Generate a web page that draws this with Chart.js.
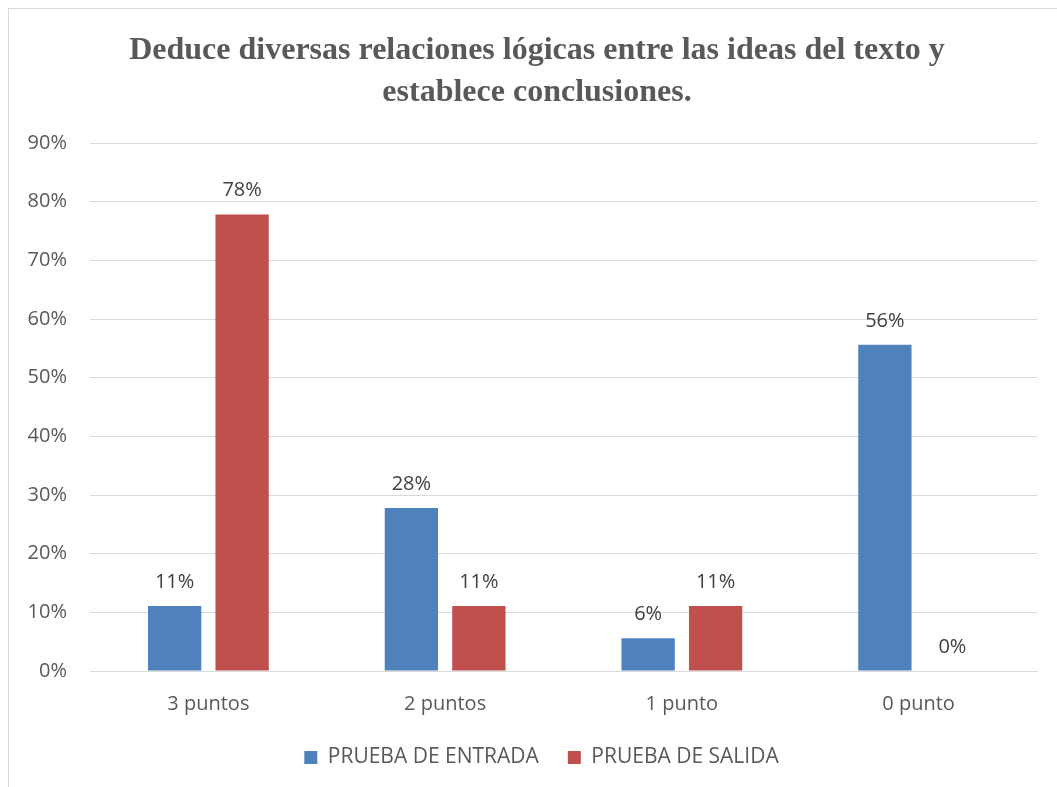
<!DOCTYPE html>
<html>
<head>
<meta charset="utf-8">
<script src="https://cdn.jsdelivr.net/npm/chart.js@4"></script>
<style>
  html, body { margin: 0; padding: 0; background: #fff; overflow: hidden; }
  #marco { position: absolute; left: 8px; top: 8px; width: 1100px; height: 900px; border: 1px solid #D9D9D9; box-sizing: border-box; }
  #myChart { position: absolute; left: 0; top: 0; }
</style>
</head>
<body>
<div id="marco"></div>
<canvas id="myChart" width="1057" height="787"></canvas>
<script>
const categorias = ['3 puntos', '2 puntos', '1 punto', '0 punto'];
const pruebaEntrada = [11.1, 27.8, 5.6, 55.6];
const pruebaSalida = [77.8, 11.1, 11.1, 0];
const titulo = ['Deduce diversas relaciones lógicas entre las ideas del texto y', 'establece conclusiones.'];

const fuente = '"Open Sans", Lato, sans-serif';

// titulo dibujado a mano para poder centrarlo donde esta en el original
const tituloGrafico = {
  id: 'tituloGrafico',
  afterDraw(chart) {
    const ctx = chart.ctx;
    ctx.save();
    ctx.font = 'bold 32px "Liberation Serif", "Times New Roman", serif';
    ctx.fillStyle = '#595959';
    ctx.textAlign = 'center';
    ctx.textBaseline = 'middle';
    titulo.forEach((linea, i) => ctx.fillText(linea, 537, 51 + i * 42));
    ctx.restore();
  }
};

// la leyenda va un poco a la derecha del centro
const moverLeyenda = {
  id: 'moverLeyenda',
  afterLayout(chart) {
    chart.legend.left += 18;
    chart.legend.right += 18;
  }
};

// etiquetas encima de cada barra
const etiquetasBarras = {
  id: 'etiquetasBarras',
  afterDatasetsDraw(chart) {
    const ctx = chart.ctx;
    ctx.save();
    ctx.font = '20px ' + fuente;
    ctx.fillStyle = '#404040';
    ctx.textAlign = 'center';
    ctx.textBaseline = 'middle';
    chart.data.datasets.forEach((ds, i) => {
      chart.getDatasetMeta(i).data.forEach((bar, j) => {
        ctx.fillText(Math.round(ds.data[j]) + '%', bar.x, bar.y - 24);
      });
    });
    ctx.restore();
  }
};

const ctx = document.getElementById('myChart');

new Chart(ctx, {
  type: 'bar',
  data: {
    labels: categorias,
    datasets: [{
      label: 'PRUEBA DE ENTRADA',
      data: pruebaEntrada,
      backgroundColor: '#4F81BD',
      categoryPercentage: 0.57,
      barPercentage: 0.79
    }, {
      label: 'PRUEBA DE SALIDA',
      data: pruebaSalida,
      backgroundColor: '#C0504D',
      categoryPercentage: 0.57,
      barPercentage: 0.79
    }]
  },
  options: {
    responsive: false,
    animation: false,
    layout: { padding: { left: 10, right: 20, top: 143, bottom: 9 } },
    scales: {
      x: {
        afterFit(scale) { scale.height -= 19; },
        grid: { display: false, drawTicks: false },
        border: { color: '#D9D9D9' },
        ticks: { color: '#595959', font: { family: fuente, size: 20 }, padding: 21 }
      },
      y: {
        min: 0,
        max: 90,
        afterFit(scale) { scale.width = 80; },
        grid: { color: '#D9D9D9', drawTicks: false },
        border: { display: false },
        ticks: {
          stepSize: 10,
          color: '#595959',
          font: { family: fuente, size: 20 },
          padding: 23,
          callback: v => v + '%'
        }
      }
    },
    plugins: {
      title: { display: false },
      legend: {
        position: 'bottom',
        labels: {
          color: '#595959',
          font: { family: fuente, size: 21 },
          boxWidth: 13,
          boxHeight: 13,
          padding: 29
        }
      },
      tooltip: { enabled: false }
    }
  },
  plugins: [etiquetasBarras, tituloGrafico, moverLeyenda]
});
</script>
</body>
</html>
